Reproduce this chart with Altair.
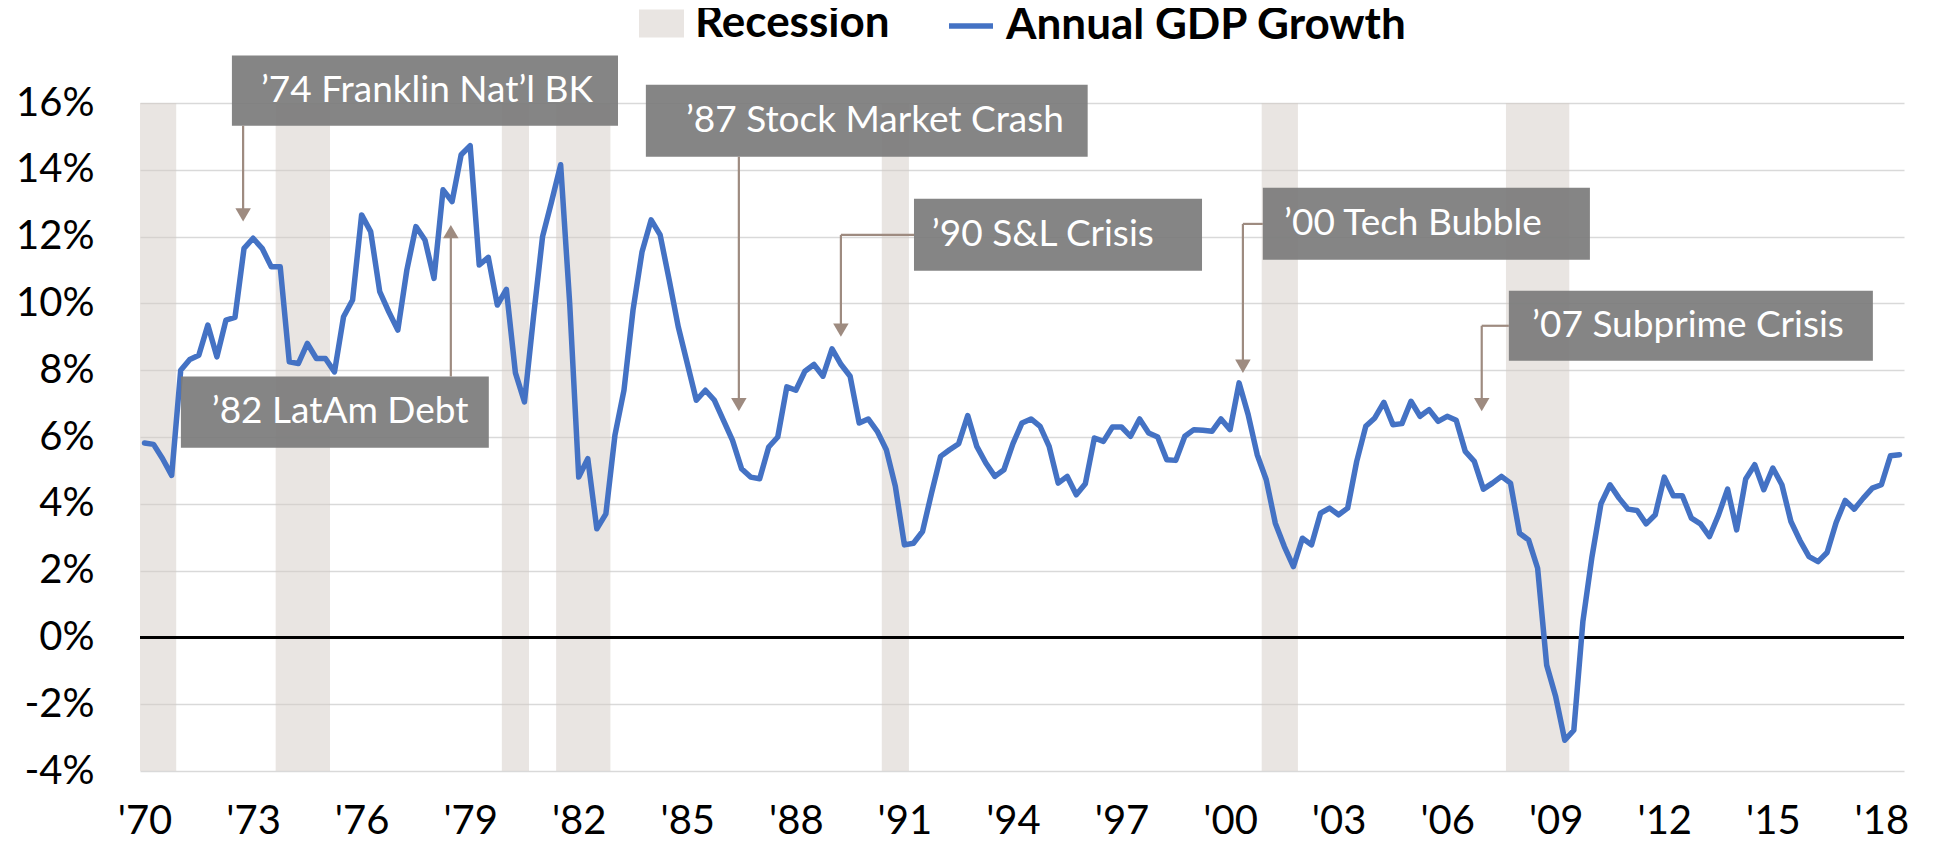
import altair as alt
import pandas as pd

# ---------------- data ----------------
start_year = 1970  # first quarter = 1970 Q1, quarterly YoY growth in %
gdp_growth = [
    5.82, 5.78, 5.35, 4.85,     # 1970
    8.00, 8.32, 8.45, 9.35,     # 1971
    8.40, 9.50, 9.58, 11.65,    # 1972
    11.95, 11.65, 11.10, 11.10, # 1973
    8.25, 8.20, 8.80, 8.35,     # 1974
    8.35, 7.95, 9.60, 10.10,    # 1975
    12.65, 12.15, 10.35, 9.75,  # 1976
    9.20, 11.00, 12.30, 11.90,  # 1977
    10.75, 13.40, 13.05, 14.45, # 1978
    14.72, 11.15, 11.38, 9.95,  # 1979
    10.42, 7.92, 7.05, 9.60,    # 1980
    12.00, 13.05, 14.15, 10.00, # 1981
    4.80, 5.35, 3.25, 3.70,     # 1982
    6.05, 7.40, 9.80, 11.55,    # 1983
    12.50, 12.05, 10.70, 9.30,  # 1984
    8.20, 7.10, 7.40, 7.10,     # 1985
    6.50, 5.90, 5.05, 4.80,     # 1986
    4.75, 5.70, 6.00, 7.50,     # 1987
    7.40, 7.97, 8.17, 7.82,     # 1988
    8.64, 8.17, 7.82, 6.42,     # 1989
    6.54, 6.17, 5.62, 4.52,     # 1990
    2.77, 2.82, 3.17, 4.32,     # 1991
    5.42, 5.62, 5.80, 6.64,     # 1992
    5.72, 5.22, 4.82, 5.02,     # 1993
    5.80, 6.42, 6.54, 6.32,     # 1994
    5.72, 4.62, 4.82, 4.27,     # 1995
    4.60, 5.97, 5.87, 6.30,     # 1996
    6.30, 6.02, 6.54, 6.12,     # 1997
    6.00, 5.32, 5.30, 6.02,     # 1998
    6.22, 6.20, 6.17, 6.54,     # 1999
    6.22, 7.62, 6.67, 5.47,     # 2000
    4.72, 3.42, 2.72, 2.12,     # 2001
    2.97, 2.77, 3.72, 3.87,     # 2002
    3.67, 3.87, 5.27, 6.32,     # 2003
    6.57, 7.04, 6.37, 6.40,     # 2004
    7.07, 6.62, 6.82, 6.47,     # 2005
    6.62, 6.50, 5.57, 5.27,     # 2006
    4.44, 4.62, 4.82, 4.62,     # 2007
    3.12, 2.92, 2.07, -0.83,    # 2008
    -1.78, -3.08, -2.78, 0.47,  # 2009
    2.40, 4.00, 4.57, 4.17,     # 2010
    3.84, 3.80, 3.40, 3.67,     # 2011
    4.80, 4.24, 4.24, 3.57,     # 2012
    3.40, 3.02, 3.67, 4.44,     # 2013
    3.22, 4.74, 5.17, 4.42,     # 2014
    5.07, 4.57, 3.47, 2.90,     # 2015
    2.42, 2.27, 2.54, 3.44,     # 2016
    4.10, 3.84, 4.17, 4.47,     # 2017
    4.57, 5.44, 5.47,           # 2018
]
recession_start = [1970.0, 1973.75, 1980.0, 1981.5, 1990.5, 2001.0, 2007.75]
recession_end = [1971.0, 1975.25, 1980.75, 1983.0, 1991.25, 2002.0, 2009.5]
label_years = list(range(1970, 2019, 3))
y_ticks = list(range(-4, 17, 2))

note_labels = [
    "\u201974 Franklin Nat\u2019l BK",
    "\u201982 LatAm Debt",
    "\u201987 Stock Market Crash",
    "\u201990 S&L Crisis",
    "\u201900 Tech Bubble",
    "\u201907 Subprime Crisis",
]

# ---------------- callout layout (year / percent units) ----------------
box_x0 = [1972.54, 1971.13, 1983.98, 1991.39, 2001.03, 2007.83]
box_x1 = [1983.21, 1979.64, 1996.19, 1999.35, 2010.07, 2017.89]
box_y0 = [15.32, 5.68, 14.39, 10.98, 11.31, 8.28]
box_y1 = [17.42, 7.81, 16.55, 13.13, 13.46, 10.38]
text_x = [1977.93, 1975.53, 1990.31, 1994.95, 2005.18, 2012.78]

seg_x0 = [1972.85, 1978.59, 1986.55, 1991.39, 1989.37, 2001.03, 2000.48, 2007.83, 2007.08]
seg_y0 = [15.32, 7.81, 14.39, 12.05, 12.05, 12.38, 12.38, 9.33, 9.33]
seg_x1 = [1972.85, 1978.59, 1986.55, 1989.37, 1989.37, 2000.48, 2000.48, 2007.08, 2007.08]
seg_y1 = [12.70, 12.10, 6.95, 12.05, 9.20, 12.38, 8.10, 9.33, 6.95]

head_x = [1972.85, 1978.59, 1986.55, 1989.37, 2000.48, 2007.08]
head_y = [12.65, 12.15, 6.97, 9.20, 8.12, 6.97]
head_dir = ["down", "up", "down", "down", "down", "down"]

# ---------------- tables ----------------
line_df = pd.DataFrame({
    "t": [start_year + i * 0.25 + 0.125 for i in range(len(gdp_growth))],
    "g": gdp_growth,
    "series": "Annual GDP Growth",
})
band_df = pd.DataFrame({"s": recession_start, "e": recession_end, "kind": "Recession"})
box_df = pd.DataFrame({
    "x0": box_x0, "x1": box_x1, "y0": box_y0, "y1": box_y1,
    "tx": text_x, "ty": [(a + b) / 2 for a, b in zip(box_y0, box_y1)],
    "label": note_labels,
})
seg_df = pd.DataFrame({"x0": seg_x0, "y0": seg_y0, "x1": seg_x1, "y1": seg_y1})
head_df = pd.DataFrame({"x": head_x, "y": head_y, "dir": head_dir})

W, H = 1764, 668
xs = alt.Scale(domain=[1970, 2018.75], nice=False, zero=False)
ys = alt.Scale(domain=[-4, 16], nice=False, zero=False)

x_axis = alt.Axis(
    values=[y + 0.125 for y in label_years],
    labelExpr="\"'\" + format(floor(datum.value) % 100, '02d')",
    grid=False, domain=False, ticks=False, tickSize=0, labelPadding=30,
    title=None, labelFlush=False, labelOverlap=False,
    labelFont="Lato", labelFontSize=40, labelColor="black",
)
y_axis = alt.Axis(
    values=y_ticks, labelExpr="datum.value + '%'",
    grid=True, gridColor="#d9d9d9", gridWidth=1.5,
    domain=False, ticks=False, tickSize=0, labelPadding=46, title=None,
    labelFont="Lato", labelFontSize=40, labelColor="black",
)


def X(f):
    return alt.X(f, scale=xs, axis=x_axis)


def Y(f):
    return alt.Y(f, scale=ys, axis=y_axis)


legend_font = dict(labelFont="Lato", labelFontSize=44, labelFontWeight="bold",
                   labelColor="black", title=None, padding=0, labelLimit=0)

bands = alt.Chart(band_df).mark_rect(fillOpacity=0.5).encode(
    x=X("s:Q"), x2="e:Q",
    y=alt.datum(16), y2=alt.datum(-4),
    color=alt.Color("kind:N", scale=alt.Scale(domain=["Recession"], range=["#d3cbc5"]),
                    legend=alt.Legend(orient="none", legendX=499, legendY=-102,
                                      symbolType="M-1,-0.62L1,-0.62L1,0.62L-1,0.62Z",
                                      symbolSize=2025, symbolOpacity=0.5,
                                      symbolStrokeWidth=0, labelOffset=11,
                                      **legend_font)),
)

zero = alt.Chart(band_df).mark_rule(color="black", strokeWidth=2).encode(
    y=alt.datum(0), x=alt.value(0), x2=alt.value(W)
)

line = alt.Chart(line_df).mark_line(strokeWidth=5.5, strokeJoin="round", strokeCap="round").encode(
    x=X("t:Q"), y=Y("g:Q"),
    stroke=alt.Stroke("series:N", scale=alt.Scale(domain=["Annual GDP Growth"], range=["#4472c4"]),
                      legend=alt.Legend(orient="none", legendX=806, legendY=-102,
                                        symbolType="stroke", symbolSize=1936,
                                        symbolStrokeWidth=5.5, labelOffset=10,
                                        **legend_font)),
)

boxes = alt.Chart(box_df).mark_rect(color="#7b7b7b", opacity=0.92).encode(
    x=X("x0:Q"), x2="x1:Q", y=Y("y0:Q"), y2="y1:Q"
)
texts = alt.Chart(box_df).mark_text(font="Lato", fontSize=37, color="white",
                                    align="center", baseline="middle").encode(
    x=X("tx:Q"), y=Y("ty:Q"), text="label:N"
)
segs = alt.Chart(seg_df).mark_rule(color="#9e8b80", strokeWidth=2.2).encode(
    x=X("x0:Q"), y=Y("y0:Q"), x2="x1:Q", y2="y1:Q"
)
heads = alt.Chart(head_df).mark_point(filled=True, size=240, opacity=1, color="#9e8b80").encode(
    x=X("x:Q"), y=Y("y:Q"),
    shape=alt.Shape("dir:N", scale=alt.Scale(domain=["down", "up"],
                                              range=["triangle-down", "triangle-up"]),
                    legend=None),
)

chart = alt.layer(bands, zero, line, boxes, texts, segs, heads).properties(
    width=W, height=H,
    autosize=alt.AutoSizeParams(type="none"),
    padding={"left": 132, "top": 95, "right": 5, "bottom": 76},
).configure_view(stroke=None)

chart.save("out.html", embed_options={"renderer": "svg", "actions": False})
